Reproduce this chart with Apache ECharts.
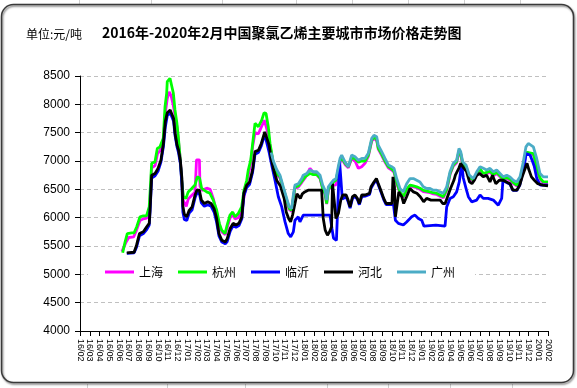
<!DOCTYPE html>
<html><head><meta charset="utf-8">
<script src="https://cdn.jsdelivr.net/npm/echarts@6/dist/echarts.min.js"></script>
<style>html,body{margin:0;padding:0;background:#fff}#c{width:577px;height:388px}</style>
</head><body><div id="c"></div>
<script>
// x values are months since 2016/02 (0 = 16/02, 48 = 20/02)
const monthLabels = ['16/02','16/03','16/04','16/05','16/06','16/07','16/08','16/09','16/10','16/11','16/12',
'17/01','17/02','17/03','17/04','17/05','17/06','17/07','17/08','17/09','17/10','17/11','17/12',
'18/01','18/02','18/03','18/04','18/05','18/06','18/07','18/08','18/09','18/10','18/11','18/12',
'19/01','19/02','19/03','19/04','19/05','19/06','19/07','19/08','19/09','19/10','19/11','19/12',
'20/01','20/02'];
const seriesNames = ['上海','杭州','临沂','河北','广州'];

const shanghai = [[4.3,5400],[4.7,5560],[5.0,5650],[5.5,5660],[5.8,5780],[6.15,5950],[6.5,5980],[6.85,5990],[7.1,6150],[7.2,6350],[7.35,6880],[7.7,6920],[7.95,7130],[8.2,7180],[8.55,7350],[8.75,7850],[8.95,8100],[9.15,8220],[9.35,8150],[9.55,8000],[9.75,7800],[9.95,7600],[10.1,7350],[10.3,7000],[10.45,6600],[10.6,6300],[10.9,6200],[11.1,6330],[11.5,6400],[11.8,6450],[11.9,6480],[11.95,7020],[12.25,7020],[12.3,6560],[12.5,6480],[12.75,6500],[13.0,6520],[13.35,6500],[13.7,6320],[14.0,6100],[14.3,5870],[14.55,5750],[14.9,5700],[15.05,5800],[15.4,6000],[15.7,6050],[15.9,5980],[16.25,6000],[16.6,6120],[16.85,6400],[17.1,6600],[17.3,6780],[17.5,6950],[17.7,7250],[17.95,7500],[18.3,7480],[18.65,7620],[18.9,7720],[19.1,7700],[19.3,7480],[19.5,7250],[19.7,7080],
[19.83,6900],[20.17,6760],[20.51,6700],[20.85,6500],[21.2,6290],[21.47,6140],[21.71,6110],[21.88,6330],[22.05,6520],[22.39,6540],[22.74,6620],[23.08,6700],[23.59,6870],[23.93,6800],[24.28,6760],[24.62,6690],[24.89,6510],[25.13,6420],[25.3,6240],[25.47,6480],[25.74,6560],[26.05,6575],[26.26,6580],[26.49,6830],[26.67,6980],[26.84,7040],[27.18,6940],[27.52,6880],[27.86,7040],[28.21,7000],[28.55,6870],[28.89,6900],[29.23,6960],[29.57,7080],[29.92,7350],[30.15,7400],[30.43,7360],[30.59,7210],[30.94,7100],[31.28,6980],[31.62,6880],[31.97,6840],[32.21,6800],[32.48,6610],[32.82,6430],[33.16,6360],[33.5,6480],[33.85,6560],[34.19,6545],[34.53,6530],[34.87,6500],[35.21,6460],[35.56,6450],[35.9,6440],[36.24,6420],[36.58,6410],[36.92,6380],[37.26,6350],[37.61,6480],[37.95,6760],[38.29,6910],[38.63,6970],[38.87,7160],[39.05,7110],[39.25,6940],[39.59,6880],[39.93,6700],[40.34,6640],[40.69,6760],[41.03,6840],[41.37,6760],[41.71,6780],[42.05,6800],[42.39,6740],[42.74,6780],[43.08,6720],[43.42,6660],[43.77,6690],[44.1,6660],[44.44,6600],[44.79,6560],[45.13,6620],[45.47,6880],[45.74,7120],[45.98,7130],[46.5,7110],[46.84,6880],[47.18,6680],[47.52,6610],[48,6610]];

const hangzhou = [[4.38,5380],[4.62,5570],[4.85,5720],[5.3,5730],[5.54,5730],[5.82,5840],[6.15,6015],[6.49,6030],[6.82,6030],[7.1,6190],[7.18,6430],[7.35,6960],[7.69,6985],[7.93,7220],[8.2,7250],[8.54,7400],[8.72,7960],[8.89,8195],[8.95,8400],[9.23,8460],[9.4,8430],[9.57,8200],[9.74,7900],[9.92,7690],[10.08,7430],[10.26,7075],[10.43,6660],[10.6,6370],[10.87,6340],[11.1,6455],[11.46,6515],[11.79,6575],[12.03,6720],[12.26,6700],[12.48,6515],[12.72,6485],[12.99,6455],[13.33,6430],[13.67,6310],[14.02,6130],[14.29,5900],[14.53,5780],[14.87,5720],[15.05,5840],[15.38,6045],[15.66,6100],[15.9,6015],[16.24,6075],[16.58,6190],[16.82,6485],[17.1,6660],[17.26,6840],[17.51,7015],[17.71,7310],[17.95,7665],[18.29,7605],[18.64,7720],[18.87,7850],[19.08,7840],[19.31,7605],[19.49,7310],[19.66,7135],
[19.83,6930],[20.17,6780],[20.51,6720],[20.85,6520],[21.2,6310],[21.47,6160],[21.71,6130],[21.88,6350],[22.05,6540],[22.39,6560],[22.74,6640],[23.08,6720],[23.59,6780],[23.93,6760],[24.28,6760],[24.62,6700],[24.89,6520],[25.13,6430],[25.3,6250],[25.47,6500],[25.74,6560],[26.05,6640],[26.26,6660],[26.49,6850],[26.67,7000],[26.84,7060],[27.18,6960],[27.52,6900],[27.86,7060],[28.21,7040],[28.55,6980],[28.89,7000],[29.23,7000],[29.57,7100],[29.92,7370],[30.15,7420],[30.43,7380],[30.59,7230],[30.94,7120],[31.28,7000],[31.62,6900],[31.97,6860],[32.21,6820],[32.48,6630],[32.82,6450],[33.16,6370],[33.5,6500],[33.85,6575],[34.19,6560],[34.53,6545],[34.87,6520],[35.21,6480],[35.56,6470],[35.9,6455],[36.24,6440],[36.58,6430],[36.92,6400],[37.26,6370],[37.61,6500],[37.95,6780],[38.29,6930],[38.63,6990],[38.87,7180],[39.05,7130],[39.25,6960],[39.59,6900],[39.93,6720],[40.34,6660],[40.69,6780],[41.03,6860],[41.37,6780],[41.71,6800],[42.05,6820],[42.39,6760],[42.74,6800],[43.08,6740],[43.42,6680],[43.77,6710],[44.1,6680],[44.44,6620],[44.79,6575],[45.13,6640],[45.47,6900],[45.74,7150],[45.98,7150],[46.15,7135],[46.5,7130],[46.84,6900],[47.18,6700],[47.52,6630],[48,6630]];

const linyi = [[4.8,5370],[5.55,5380],[5.8,5480],[6.1,5680],[6.5,5720],[6.84,5790],[7.1,5870],[7.18,6090],[7.35,6700],[7.7,6740],[8.0,6820],[8.3,6980],[8.55,7250],[8.75,7600],[8.95,7800],[9.25,7850],[9.45,7820],[9.6,7700],[9.75,7450],[9.95,7250],[10.1,7150],[10.3,6950],[10.45,6600],[10.55,6100],[10.7,5970],[10.95,5950],[11.2,6080],[11.5,6140],[11.8,6350],[12.0,6440],[12.25,6420],[12.45,6260],[12.75,6200],[13.1,6230],[13.45,6200],[13.75,6100],[14.0,5930],[14.25,5680],[14.55,5570],[14.9,5540],[15.1,5580],[15.4,5760],[15.7,5860],[16.0,5830],[16.3,5860],[16.6,5980],[16.8,6380],[17.1,6530],[17.4,6590],[17.7,6800],[17.95,7120],[18.3,7150],[18.6,7270],[18.95,7470],[19.15,7450],[19.4,7150],[19.66,6930],[20.0,6660],[20.34,6370],[20.69,6190],[21.03,5925],[21.36,5720],[21.61,5660],[21.88,5750],[22.05,5955],[22.39,6015],[22.56,5925],[22.73,5925],[22.9,6045],[25.64,6045],[25.85,5800],[26.0,5640],[26.3,5600],[26.5,5620],[26.62,7000],[26.75,6700],[26.9,6330],[27.3,6370],[27.5,6280],[27.7,6170],[27.95,6340],[28.2,6380],[28.45,6320],[28.65,6230],[28.9,6370],[29.25,6380],[29.7,6410],[29.85,6520],[30.15,6610],[30.4,6670],[30.55,6600],[30.85,6460],[31.15,6320],[31.4,6230],[31.74,6230],[32.15,6230],[32.35,5955],[32.65,5900],[33.16,5870],[33.5,5925],[34.02,6015],[34.36,6045],[34.7,5985],[35.05,5955],[35.28,5850],[36.5,5870],[37.44,5850],[37.61,6190],[37.95,6340],[38.29,6370],[38.63,6455],[38.9,6630],[39.05,6840],[39.15,6950],[39.31,6700],[39.62,6500],[39.83,6370],[40.17,6280],[40.69,6310],[41.03,6400],[41.36,6340],[41.85,6340],[42.39,6310],[42.9,6220],[43.25,6340],[43.38,6660],[43.75,6620],[44.1,6590],[44.4,6480],[44.8,6480],[45.1,6570],[45.35,6750],[45.6,6950],[45.75,7130],[46.15,7105],[46.4,7000],[46.6,6900],[46.85,6690],[47.2,6575],[48,6575]];

const hebei = [[4.8,5380],[5.55,5390],[5.8,5515],[6.1,5720],[6.5,5750],[6.84,5840],[7.1,5900],[7.18,6130],[7.35,6750],[7.7,6780],[8.0,6870],[8.3,7015],[8.55,7300],[8.75,7700],[8.95,7850],[9.25,7900],[9.45,7870],[9.6,7750],[9.75,7490],[9.95,7280],[10.1,7200],[10.3,7000],[10.45,6700],[10.55,6200],[10.7,6060],[10.95,6015],[11.2,6130],[11.5,6190],[11.8,6400],[12.0,6490],[12.25,6480],[12.45,6310],[12.75,6250],[13.1,6280],[13.45,6250],[13.75,6160],[14.0,6000],[14.25,5720],[14.55,5600],[14.9,5570],[15.1,5630],[15.4,5810],[15.7,5900],[16.0,5870],[16.3,5900],[16.6,6015],[16.8,6430],[17.1,6575],[17.4,6630],[17.7,6840],[17.95,7165],[18.3,7190],[18.6,7310],[18.95,7515],[19.15,7490],[19.4,7280],[19.6,7050],[19.85,6850],[20.2,6650],[20.55,6560],[20.95,6330],[21.15,6100],[21.4,5985],[21.6,5925],[21.8,6045],[22.05,6250],[22.25,6420],[22.45,6455],[22.6,6340],[22.8,6420],[23.05,6455],[23.4,6485],[24.0,6485],[24.5,6485],[24.78,6485],[24.95,5985],[25.15,5780],[25.38,5690],[25.6,5750],[25.8,5840],[25.9,6600],[26.05,6630],[26.25,5985],[26.5,6075],[26.75,6310],[26.95,6400],[27.3,6400],[27.5,6310],[27.7,6190],[27.95,6370],[28.2,6400],[28.45,6340],[28.65,6250],[28.9,6400],[29.25,6400],[29.7,6430],[29.85,6545],[30.15,6630],[30.4,6690],[30.55,6620],[30.85,6485],[31.15,6340],[31.4,6250],[31.7,6250],[32.0,6250],[32.1,6720],[32.25,6545],[32.35,6015],[32.5,6015],[32.7,6455],[33.0,6370],[33.2,6250],[33.5,6370],[33.85,6515],[34.2,6455],[34.55,6430],[34.9,6370],[35.25,6280],[35.55,6340],[36.0,6310],[36.6,6310],[36.95,6310],[37.2,6250],[37.45,6250],[37.7,6370],[38.0,6515],[38.35,6660],[38.5,6750],[38.85,6870],[39.05,6960],[39.25,6900],[39.65,6810],[39.95,6630],[40.2,6600],[40.45,6660],[40.7,6750],[41.0,6780],[41.35,6720],[41.7,6750],[42.05,6630],[42.3,6750],[42.65,6600],[43.0,6660],[43.4,6660],[43.75,6630],[44.1,6600],[44.4,6485],[44.8,6485],[45.1,6575],[45.35,6720],[45.6,6840],[45.85,6960],[46.05,6840],[46.3,6720],[46.6,6660],[46.95,6600],[47.45,6575],[48,6560]];

const guangzhou = [[19.6,7150],[19.83,7000],[20.17,6850],[20.51,6750],[20.85,6545],[21.2,6340],[21.47,6190],[21.71,6160],[21.88,6400],[22.05,6575],[22.39,6600],[22.74,6690],[22.9,6750],[23.25,6780],[23.59,6840],[23.93,6810],[24.28,6810],[24.62,6750],[24.89,6575],[25.13,6485],[25.3,6310],[25.47,6545],[25.71,6600],[25.98,6660],[26.26,6690],[26.49,6900],[26.67,7045],[26.84,7105],[27.18,6985],[27.52,6900],[27.86,7105],[28.21,7075],[28.55,7015],[28.89,7045],[29.23,7045],[29.57,7135],[29.92,7400],[30.15,7455],[30.43,7430],[30.59,7280],[30.94,7165],[31.28,7045],[31.62,6930],[31.97,6900],[32.21,6870],[32.48,6690],[32.82,6515],[33.16,6455],[33.5,6600],[33.85,6690],[34.19,6690],[34.53,6660],[34.87,6630],[35.21,6545],[35.56,6515],[35.9,6515],[36.24,6485],[36.58,6485],[36.92,6455],[37.26,6430],[37.61,6545],[37.95,6810],[38.29,6960],[38.63,7015],[38.87,7220],[39.05,7165],[39.25,6985],[39.59,6930],[39.93,6750],[40.34,6690],[40.69,6810],[41.03,6900],[41.37,6870],[41.71,6840],[42.05,6870],[42.39,6810],[42.74,6840],[43.08,6780],[43.42,6720],[43.77,6750],[44.1,6720],[44.44,6660],[44.79,6630],[45.13,6720],[45.47,6985],[45.74,7250],[45.98,7310],[46.5,7250],[46.84,7045],[47.18,6780],[47.52,6720],[48,6720]];

const yTicks = {min: 4000, max: 8500, step: 500};

const seriesData = [shanghai, hangzhou, linyi, hebei, guangzhou];
const seriesColors = ['#FF00FF', '#00FF00', '#0000FF', '#000000', '#4BACC6'];

const chart = echarts.init(document.getElementById('c'), null, {renderer: 'canvas'});

const topCellLines = [79, 151, 222, 296, 352, 408, 464, 520];
const bottomCellLines = [87, 167, 245, 327, 388, 450, 512];
const graphics = [];
topCellLines.forEach(x => graphics.push({type: 'line', shape: {x1: x + 0.5, y1: 0, x2: x + 0.5, y2: 4}, style: {stroke: '#d0d0d0', lineWidth: 1}, silent: true}));
bottomCellLines.forEach(x => graphics.push({type: 'line', shape: {x1: x + 0.5, y1: 384, x2: x + 0.5, y2: 388}, style: {stroke: '#d0d0d0', lineWidth: 1}, silent: true}));
graphics.push({
  type: 'rect', shape: {x: 1.5, y: 4.5, width: 572, height: 378, r: 12},
  style: {fill: null, stroke: '#3a3a3a', lineWidth: 1.5, shadowBlur: 2, shadowOffsetX: 1, shadowOffsetY: 1.5, shadowColor: 'rgba(0,0,0,0.55)'},
  silent: true
});
graphics.push({type: 'text', x: 26, y: 34, style: {text: '单位:元/吨', font: '12px "Noto Sans CJK SC"', fill: '#000', verticalAlign: 'middle'}});
graphics.push({type: 'text', x: 102, y: 33, style: {text: '2016年-2020年2月中国聚氯乙烯主要城市市场价格走势图', font: 'bold 14px "Noto Sans CJK SC"', fill: '#000', verticalAlign: 'middle'}});

chart.setOption({
  animation: false,
  backgroundColor: '#fff',
  graphic: graphics,
  grid: {left: 80, right: 29, top: 76, bottom: 57, containLabel: false},
  legend: {
    data: seriesNames,
    left: 88, top: 261,
    padding: [5, 20, 5, 17],
    backgroundColor: '#fff',
    icon: 'rect', itemWidth: 29, itemHeight: 3, itemGap: 15,
    textStyle: {fontSize: 12, fontFamily: '"Noto Sans CJK SC"', color: '#000'}
  },
  xAxis: {
    type: 'value', min: 0, max: monthLabels.length - 1, interval: 1,
    axisLine: {show: true, lineStyle: {color: '#000', width: 1}},
    axisTick: {show: true, length: 5, lineStyle: {color: '#000'}},
    axisLabel: {rotate: -90, margin: 8, fontSize: 9, lineHeight: 8, fontFamily: 'Liberation Sans', color: '#000',
      hideOverlap: false, showMinLabel: true, showMaxLabel: true, interval: 0,
      formatter: v => monthLabels[Math.round(v)] || ''},
    splitLine: {show: false}
  },
  yAxis: {
    type: 'value', min: yTicks.min, max: yTicks.max, interval: yTicks.step,
    axisLine: {show: true, lineStyle: {color: '#000', width: 1}},
    axisTick: {show: true, length: 5, lineStyle: {color: '#000'}},
    axisLabel: {margin: 10, fontSize: 12, fontFamily: 'Liberation Sans', color: '#000', formatter: v => String(v)},
    splitLine: {show: true, lineStyle: {color: '#c0c0c0', type: [4, 3], width: 1}}
  },
  series: seriesNames.map((name, i) => ({
    name: name, type: 'line', data: seriesData[i],
    symbol: 'none', showSymbol: false,
    color: seriesColors[i],
    lineStyle: {width: 2.8, color: seriesColors[i]},
    itemStyle: {color: seriesColors[i]}
  }))
});
</script>
</body></html>
